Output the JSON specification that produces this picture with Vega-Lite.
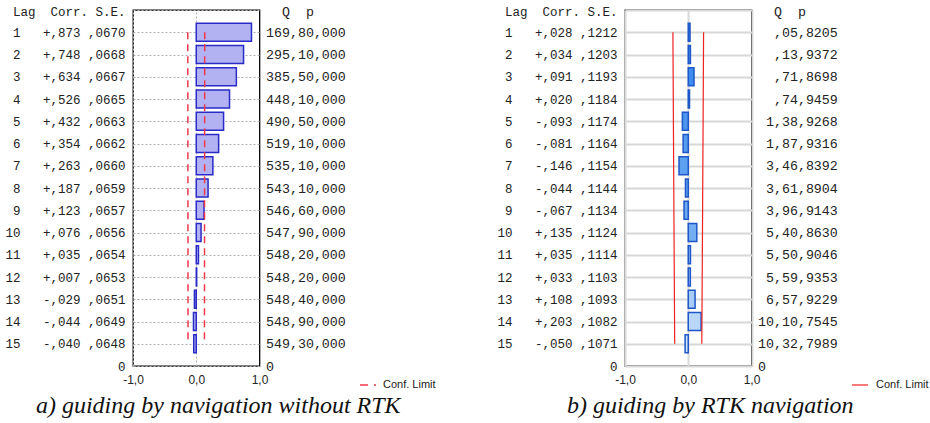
{
  "$schema": "https://vega.github.io/schema/vega-lite/v6.json",
  "background": "white",
  "padding": {"left": 4, "top": 2, "right": 0, "bottom": 0},
  "datasets": {
    "a": [
      {"lag": 0, "left": "", "right": ""},
      {"lag": 1, "corr": 0.873, "cl": 0.134, "ncl": -0.134, "left": "1\u00a0\u00a0\u00a0+,873\u00a0,0670", "right": "169,80,000"},
      {"lag": 2, "corr": 0.748, "cl": 0.1336, "ncl": -0.1336, "left": "2\u00a0\u00a0\u00a0+,748\u00a0,0668", "right": "295,10,000"},
      {"lag": 3, "corr": 0.634, "cl": 0.1334, "ncl": -0.1334, "left": "3\u00a0\u00a0\u00a0+,634\u00a0,0667", "right": "385,50,000"},
      {"lag": 4, "corr": 0.526, "cl": 0.133, "ncl": -0.133, "left": "4\u00a0\u00a0\u00a0+,526\u00a0,0665", "right": "448,10,000"},
      {"lag": 5, "corr": 0.432, "cl": 0.1326, "ncl": -0.1326, "left": "5\u00a0\u00a0\u00a0+,432\u00a0,0663", "right": "490,50,000"},
      {"lag": 6, "corr": 0.354, "cl": 0.1324, "ncl": -0.1324, "left": "6\u00a0\u00a0\u00a0+,354\u00a0,0662", "right": "519,10,000"},
      {"lag": 7, "corr": 0.263, "cl": 0.132, "ncl": -0.132, "left": "7\u00a0\u00a0\u00a0+,263\u00a0,0660", "right": "535,10,000"},
      {"lag": 8, "corr": 0.187, "cl": 0.1318, "ncl": -0.1318, "left": "8\u00a0\u00a0\u00a0+,187\u00a0,0659", "right": "543,10,000"},
      {"lag": 9, "corr": 0.123, "cl": 0.1314, "ncl": -0.1314, "left": "9\u00a0\u00a0\u00a0+,123\u00a0,0657", "right": "546,60,000"},
      {"lag": 10, "corr": 0.076, "cl": 0.1312, "ncl": -0.1312, "left": "10\u00a0\u00a0\u00a0+,076\u00a0,0656", "right": "547,90,000"},
      {"lag": 11, "corr": 0.035, "cl": 0.1308, "ncl": -0.1308, "left": "11\u00a0\u00a0\u00a0+,035\u00a0,0654", "right": "548,20,000"},
      {"lag": 12, "corr": 0.007, "cl": 0.1306, "ncl": -0.1306, "left": "12\u00a0\u00a0\u00a0+,007\u00a0,0653", "right": "548,20,000\u200b"},
      {"lag": 13, "corr": -0.029, "cl": 0.1302, "ncl": -0.1302, "left": "13\u00a0\u00a0\u00a0-,029\u00a0,0651", "right": "548,40,000"},
      {"lag": 14, "corr": -0.044, "cl": 0.1298, "ncl": -0.1298, "left": "14\u00a0\u00a0\u00a0-,044\u00a0,0649", "right": "548,90,000"},
      {"lag": 15, "corr": -0.040, "cl": 0.1296, "ncl": -0.1296, "left": "15\u00a0\u00a0\u00a0-,040\u00a0,0648", "right": "549,30,000"},
      {"lag": 16, "left": "0", "right": "0"}
    ],
    "b": [
      {"lag": 0, "left": "", "right": ""},
      {"lag": 1, "corr": 0.028, "cl": 0.2424, "ncl": -0.2424, "left": "1\u00a0\u00a0\u00a0+,028\u00a0,1212", "right": "\u200b\u00a0\u00a0,05,8205"},
      {"lag": 2, "corr": 0.034, "cl": 0.2406, "ncl": -0.2406, "left": "2\u00a0\u00a0\u00a0+,034\u00a0,1203", "right": "\u200b\u00a0\u00a0,13,9372"},
      {"lag": 3, "corr": 0.091, "cl": 0.2386, "ncl": -0.2386, "left": "3\u00a0\u00a0\u00a0+,091\u00a0,1193", "right": "\u200b\u00a0\u00a0,71,8698"},
      {"lag": 4, "corr": 0.020, "cl": 0.2368, "ncl": -0.2368, "left": "4\u00a0\u00a0\u00a0+,020\u00a0,1184", "right": "\u200b\u00a0\u00a0,74,9459"},
      {"lag": 5, "corr": -0.093, "cl": 0.2348, "ncl": -0.2348, "left": "5\u00a0\u00a0\u00a0-,093\u00a0,1174", "right": "\u200b\u00a01,38,9268"},
      {"lag": 6, "corr": -0.081, "cl": 0.2328, "ncl": -0.2328, "left": "6\u00a0\u00a0\u00a0-,081\u00a0,1164", "right": "\u200b\u00a01,87,9316"},
      {"lag": 7, "corr": -0.146, "cl": 0.2308, "ncl": -0.2308, "left": "7\u00a0\u00a0\u00a0-,146\u00a0,1154", "right": "\u200b\u00a03,46,8392"},
      {"lag": 8, "corr": -0.044, "cl": 0.2288, "ncl": -0.2288, "left": "8\u00a0\u00a0\u00a0-,044\u00a0,1144", "right": "\u200b\u00a03,61,8904"},
      {"lag": 9, "corr": -0.067, "cl": 0.2268, "ncl": -0.2268, "left": "9\u00a0\u00a0\u00a0-,067\u00a0,1134", "right": "\u200b\u00a03,96,9143"},
      {"lag": 10, "corr": 0.135, "cl": 0.2248, "ncl": -0.2248, "left": "10\u00a0\u00a0\u00a0+,135\u00a0,1124", "right": "\u200b\u00a05,40,8630"},
      {"lag": 11, "corr": 0.035, "cl": 0.2228, "ncl": -0.2228, "left": "11\u00a0\u00a0\u00a0+,035\u00a0,1114", "right": "\u200b\u00a05,50,9046"},
      {"lag": 12, "corr": 0.033, "cl": 0.2206, "ncl": -0.2206, "left": "12\u00a0\u00a0\u00a0+,033\u00a0,1103", "right": "\u200b\u00a05,59,9353"},
      {"lag": 13, "corr": 0.108, "cl": 0.2186, "ncl": -0.2186, "left": "13\u00a0\u00a0\u00a0+,108\u00a0,1093", "right": "\u200b\u00a06,57,9229"},
      {"lag": 14, "corr": 0.203, "cl": 0.2164, "ncl": -0.2164, "left": "14\u00a0\u00a0\u00a0+,203\u00a0,1082", "right": "10,10,7545"},
      {"lag": 15, "corr": -0.050, "cl": 0.2142, "ncl": -0.2142, "left": "15\u00a0\u00a0\u00a0-,050\u00a0,1071", "right": "10,32,7989"},
      {"lag": 16, "left": "0", "right": "0"}
    ]
  },
  "hconcat": [
    {
      "width": 126.5,
      "height": 356,
      "data": {"name": "a"},
      "title": {"text": "a) guiding by navigation without RTK", "orient": "bottom", "anchor": "middle", "frame": "group", "dx": 22, "offset": 4, "font": "Liberation Serif", "fontStyle": "italic", "fontWeight": "normal", "fontSize": 24, "color": "#111"},
      "layer": [
        {
          "layer": [
            {
              "mark": {"type": "point", "opacity": 0},
              "encoding": {
                "y": {"field": "left", "type": "ordinal", "sort": {"field": "lag", "op": "min"}, "scale": {"type": "point", "padding": 0},
                  "axis": {"orient": "left", "title": "Lag\u00a0\u00a0Corr.\u00a0S.E.", "titleAngle": 0, "titleAlign": "right", "titleBaseline": "middle", "titleX": -8, "titleY": 1, "titleFont": "Liberation Mono", "titleFontSize": 12.5, "titleFontWeight": "normal", "titleColor": "#222", "labelFont": "Liberation Mono", "labelFontSize": 12.5, "labelColor": "#222", "labelPadding": 8, "ticks": false, "domain": false, "grid": true, "gridColor": "#b0b0b0", "gridDash": [2, 2], "gridWidth": 1, "labelBaseline": "middle"}}
              }
            },
            {
              "mark": {"type": "bar", "size": 18, "fill": "#b2b2f2", "stroke": "#2a2ac6", "strokeWidth": 1.5},
              "encoding": {
                "y": {"field": "left", "type": "ordinal", "sort": {"field": "lag", "op": "min"}},
                "x": {"field": "corr", "type": "quantitative", "title": null, "scale": {"domain": [-1, 1], "nice": false, "zero": false},
                  "axis": {"values": [-1, -0.5, 0, 0.5, 1], "labelExpr": "replace(replace(format(datum.value, '.1f'), '.', ','), '\u2212', '-')", "labelFont": "Liberation Sans", "labelFontSize": 12, "labelColor": "#222", "labelPadding": 8, "ticks": false, "domain": false, "grid": true, "gridColor": "#b0b0b0", "gridDash": [2, 2], "gridWidth": 1, "labelFlush": false}},
                "x2": {"datum": 0}
              }
            },
            {
              "mark": {"type": "line", "strokeDash": [7, 5], "strokeWidth": 1.5},
              "encoding": {
                "y": {"field": "left", "type": "ordinal", "sort": {"field": "lag", "op": "min"}},
                "x": {"field": "ncl", "type": "quantitative", "title": null},
                "order": {"field": "lag", "type": "quantitative"},
                "stroke": {"datum": "Conf. Limit", "type": "nominal", "scale": {"range": ["#f03848"]},
                  "legend": {"title": null, "orient": "none", "legendX": 226, "legendY": 366, "symbolType": "stroke", "symbolSize": 256, "symbolStrokeWidth": 1.5, "symbolDash": [8, 6], "labelFont": "Liberation Sans", "labelFontSize": 11, "labelColor": "#222", "labelOffset": 6}}
              }
            },
            {
              "mark": {"type": "line", "strokeDash": [7, 5], "strokeWidth": 1.5},
              "encoding": {
                "y": {"field": "left", "type": "ordinal", "sort": {"field": "lag", "op": "min"}},
                "x": {"field": "cl", "type": "quantitative", "title": null},
                "order": {"field": "lag", "type": "quantitative"},
                "stroke": {"datum": "Conf. Limit", "type": "nominal"}
              }
            }
          ]
        },
        {
          "mark": {"type": "point", "opacity": 0},
          "encoding": {
            "y": {"field": "right", "type": "ordinal", "sort": {"field": "lag", "op": "min"}, "scale": {"type": "point", "padding": 0},
              "axis": {"orient": "right", "title": "\u200b\u00a0\u00a0Q\u00a0\u00a0p", "titleAngle": 0, "titleAlign": "left", "titleBaseline": "middle", "titleX": 6, "titleY": 1, "titleFont": "Liberation Mono", "titleFontSize": 13.3, "titleFontWeight": "normal", "titleColor": "#222", "labelFont": "Liberation Mono", "labelFontSize": 13.3, "labelColor": "#222", "labelPadding": 6, "ticks": false, "domain": false, "grid": false, "labelBaseline": "middle"}}
          }
        }
      ],
      "resolve": {"scale": {"y": "independent"}}
    },
    {
      "width": 126.5,
      "height": 356,
      "data": {"name": "b"},
      "title": {"text": "b) guiding by RTK navigation", "orient": "bottom", "anchor": "middle", "frame": "group", "dx": 22, "offset": 4, "font": "Liberation Serif", "fontStyle": "italic", "fontWeight": "normal", "fontSize": 24, "color": "#111"},
      "layer": [
        {
          "layer": [
            {
              "mark": {"type": "point", "opacity": 0},
              "encoding": {
                "y": {"field": "left", "type": "ordinal", "sort": {"field": "lag", "op": "min"}, "scale": {"type": "point", "padding": 0},
                  "axis": {"orient": "left", "title": "Lag\u00a0\u00a0Corr.\u00a0S.E.", "titleAngle": 0, "titleAlign": "right", "titleBaseline": "middle", "titleX": -8, "titleY": 1, "titleFont": "Liberation Mono", "titleFontSize": 12.5, "titleFontWeight": "normal", "titleColor": "#222", "labelFont": "Liberation Mono", "labelFontSize": 12.5, "labelColor": "#222", "labelPadding": 8, "ticks": false, "domain": false, "grid": true, "gridColor": "#d8d8d8", "gridWidth": 2, "labelBaseline": "middle"}}
              }
            },
            {
              "mark": {"type": "bar", "size": 18, "stroke": "#1f56c8", "strokeWidth": 1.5},
              "encoding": {
                "y": {"field": "left", "type": "ordinal", "sort": {"field": "lag", "op": "min"}},
                "x": {"field": "corr", "type": "quantitative", "title": null, "scale": {"domain": [-1, 1], "nice": false, "zero": false},
                  "axis": {"values": [-1, -0.5, 0, 0.5, 1], "labelExpr": "replace(replace(format(datum.value, '.1f'), '.', ','), '\u2212', '-')", "labelFont": "Liberation Sans", "labelFontSize": 12, "labelColor": "#222", "labelPadding": 8, "ticks": false, "domain": false, "grid": true, "gridColor": "#d8d8d8", "gridWidth": 2, "labelFlush": false}},
                "x2": {"datum": 0},
                "fill": {"field": "lag", "type": "quantitative", "scale": {"domain": [1, 10, 15], "range": ["#2f82ee", "#72aef0", "#cbe2fa"]}, "legend": null}
              }
            },
            {
              "mark": {"type": "line", "strokeWidth": 1.2},
              "encoding": {
                "y": {"field": "left", "type": "ordinal", "sort": {"field": "lag", "op": "min"}},
                "x": {"field": "ncl", "type": "quantitative", "title": null},
                "order": {"field": "lag", "type": "quantitative"},
                "stroke": {"datum": "Conf. Limit", "type": "nominal", "scale": {"range": ["#ee2222"]},
                  "legend": {"title": null, "orient": "none", "legendX": 226, "legendY": 366, "symbolType": "stroke", "symbolSize": 256, "symbolStrokeWidth": 1.2, "labelFont": "Liberation Sans", "labelFontSize": 11, "labelColor": "#222", "labelOffset": 7}}
              }
            },
            {
              "mark": {"type": "line", "strokeWidth": 1.2},
              "encoding": {
                "y": {"field": "left", "type": "ordinal", "sort": {"field": "lag", "op": "min"}},
                "x": {"field": "cl", "type": "quantitative", "title": null},
                "order": {"field": "lag", "type": "quantitative"},
                "stroke": {"datum": "Conf. Limit", "type": "nominal"}
              }
            }
          ]
        },
        {
          "mark": {"type": "point", "opacity": 0},
          "encoding": {
            "y": {"field": "right", "type": "ordinal", "sort": {"field": "lag", "op": "min"}, "scale": {"type": "point", "padding": 0},
              "axis": {"orient": "right", "title": "\u200b\u00a0\u00a0Q\u00a0\u00a0p", "titleAngle": 0, "titleAlign": "left", "titleBaseline": "middle", "titleX": 6, "titleY": 1, "titleFont": "Liberation Mono", "titleFontSize": 13.3, "titleFontWeight": "normal", "titleColor": "#222", "labelFont": "Liberation Mono", "labelFontSize": 13.3, "labelColor": "#222", "labelPadding": 6, "ticks": false, "domain": false, "grid": false, "labelBaseline": "middle"}}
          }
        }
      ],
      "resolve": {"scale": {"y": "independent"}}
    }
  ],
  "spacing": 365,
  "bounds": "flush",
  "resolve": {"scale": {"x": "independent", "y": "independent", "stroke": "independent", "fill": "independent"}, "legend": {"stroke": "independent"}},
  "config": {"view": {"stroke": "#000", "strokeWidth": 1.3}, "font": "Liberation Sans"}
}
